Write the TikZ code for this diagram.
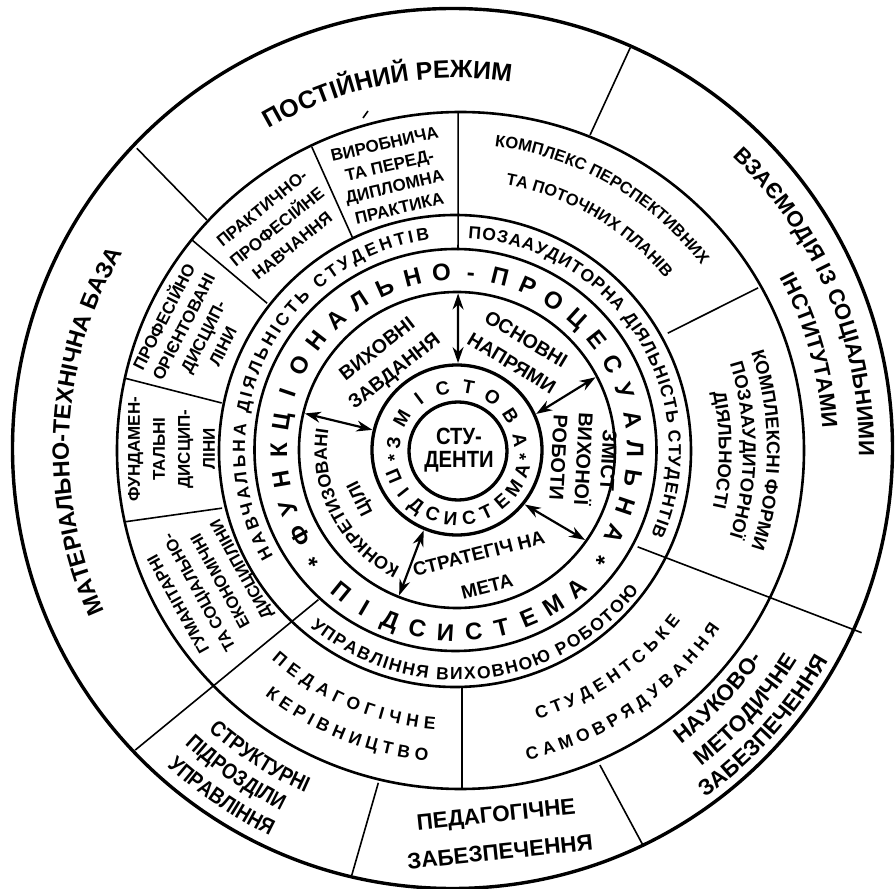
\documentclass[tikz,border=0pt]{standalone}
\usepackage{fontspec}
\setmainfont{Liberation Sans}
\newfontfamily\narrowfont[FakeStretch=0.86]{Liberation Sans}
\usetikzlibrary{positioning,decorations.text,arrows.meta}
\tikzset{
  rim/.style    = {line width=3.4pt},
  ring/.style   = {line width=2.6pt},
  core/.style   = {line width=3.3pt},
  sep/.style    = {line width=1.6pt},
  block/.style  = {align=center, inner sep=0pt},
  letter/.style = {anchor=base, inner sep=0pt},
  link/.style   = {<->, line width=2.2pt}
}
\newcommand\fsz[1]{\fontsize{#1}{#1}\selectfont}
\newcommand\fb[2]{\bfseries\fontsize{#1}{#2}\selectfont}
% align, font, radius, from, to, text
\newcommand\arctext[6]{\path[decorate, decoration={text along path, text align={#1},
    text={|\bfseries#2|#6}}] (#4:#3) arc[start angle=#4, end angle=#5, radius=#3];}
% prefix, font, radius, start, step, turn, letters
\newcommand\ringletters[7]{\foreach \ch [count=\k from 0] in {#7}{
    \pgfmathsetmacro\ang{#4+\k*(#5)}
    \node[letter, font=\bfseries#2, rotate=\ang#6] (#1\k) at (\ang:#3) {\ch};}}

\begin{document}
\begin{tikzpicture}[x=1pt,y=1pt,>={Stealth[length=16pt,width=11pt]}]
\useasboundingbox (-457,-439) rectangle (438,450);

\draw[sep] (89.8:337) -- (89.7:200);
\draw[sep] (115.6:336) -- (116.2:237);
\draw[sep] (141.6:338) -- (142.3:240);
\draw[sep] (167.8:340) -- (168.7:240);
\draw[sep] (192.2:340) -- (193.9:242);
\draw[sep] (227.2:204) -- (223:440);
\draw[sep] (5,-238) -- (5,-340);
\draw[sep] (256.7:342) -- (256.1:438);
\draw[sep] (-65.6:346) -- (-64.8:437);
\draw[sep] (-28.2:205) -- (-24.3:444);
\draw[sep] (28.3:342) -- (29:241);
\draw[sep] (66.7:438) -- (67.1:342);
\draw[sep] (136.7:440) -- (137.4:340);
\draw[sep] (-94,332) -- (-89,339);

\draw[rim] (-4.5,1.5) circle[radius=440];
\draw[ring] (3.5,-0.5) ellipse[x radius=343.5, y radius=338.5];
\draw[ring] (-2,-1) circle[radius=236];
\draw[ring] (-1.5,0) circle[radius=201];
\draw[ring] (0,0) circle[radius=158];
\draw[core] (0,0) circle[radius=85];
\draw[core] (1,-1) circle[radius=49];

\arctext{center}{\fsz{25}}{372}{160}{42}{ПОСТІЙНИЙ РЕЖИМ}
\arctext{center}{\fsz{22}}{402}{75}{-29}{ВЗАЄМОДІЯ ІЗ СОЦІАЛЬНИМИ}
\arctext{center}{\fsz{22}}{366}{45}{-13.4}{ІНСТИТУТАМИ}
\arctext{center}{\fsz{22.5}}{370}{-70}{-17}{НАУКОВО-}
\arctext{center}{\fsz{22.5}}{400}{-70}{-14}{МЕТОДИЧНЕ}
\arctext{center}{\fsz{22.5}}{427}{-72}{-12}{ЗАБЕЗПЕЧЕННЯ}
\arctext{center}{\narrowfont\fsz{22}}{375}{210}{264.6}{СТРУКТУРНІ}
\arctext{center}{\narrowfont\fsz{22}}{401}{208}{263.2}{ПІДРОЗДІЛИ}
\arctext{center}{\narrowfont\fsz{22}}{429}{208}{263.6}{УПРАВЛІННЯ}
\arctext{center}{\fsz{23.5}}{388}{240}{114}{МАТЕРІАЛЬНО-ТЕХНІЧНА БАЗА}
\node[block, rotate=6, font=\fb{22.5}{38}] (pedz) at (41,-383) {ПЕДАГОГІЧНЕ\\ЗАБЕЗПЕЧЕННЯ};

\node[block, rotate=13, font=\fb{17}{22}] (prod) at (-65,274) {ВИРОБНИЧА\\ТА ПЕРЕД-\\ДИПЛОМНА\\ПРАКТИКА};
\node[block, rotate=39, font=\fb{17}{24}] (pract) at (-180,223) {ПРАКТИЧНО-\\ПРОФЕСІЙНЕ\\НАВЧАННЯ};
\node[block, rotate=63, font=\fb{17}{22}] (prof) at (-265,119) {ПРОФЕСІЙНО\\ОРІЄНТОВАНІ\\ДИСЦИП-\\ЛІНИ};
\node[block, rotate=90, font=\fb{17}{25}] (fund) at (-285.5,1) {ФУНДАМЕН-\\ТАЛЬНІ\\ДИСЦИП-\\ЛІНИ};
\node[block, rotate=119, font=\fb{16.5}{24}] (hum) at (-246,-136) {ГУМАНІТАРНІ\\ТА СОЦІАЛЬНО-\\ЕКОНОМІЧНІ\\ДИСЦИПЛІНИ};
\arctext{fit to path}{\fsz{17.5}}{280}{228.5}{265.5}{ПЕДАГОГІЧНЕ}
\arctext{fit to path}{\fsz{17.5}}{312}{232}{264.6}{КЕРІВНИЦТВО}
\arctext{fit to path}{\fsz{17.5}}{281}{-73.4}{-37.3}{СТУДЕНТСЬКЕ}
\arctext{fit to path}{\fsz{17.5}}{318}{-77.2}{-34.2}{САМОВРЯДУВАННЯ}
\arctext{center}{\fsz{18.5}}{310}{40}{-40}{КОМПЛЕКСНІ ФОРМИ}
\arctext{center}{\fsz{18.5}}{286}{40}{-40}{ПОЗААУДИТОРНОЇ}
\arctext{center}{\fsz{18.5}}{262}{40}{-40}{ДІЯЛЬНОСТІ}
\arctext{center}{\fsz{16.5}}{306}{95}{25}{КОМПЛЕКС ПЕРСПЕКТИВНИХ}
\arctext{center}{\fsz{16.5}}{270}{94.2}{25}{ТА ПОТОЧНИХ ПЛАНІВ}

\arctext{fit to path}{\fsz{17.5}}{212}{210}{97.4}{НАВЧАЛЬНА ДІЯЛЬНІСТЬ СТУДЕНТІВ}
\arctext{fit to path}{\fsz{17.5}}{212}{87}{-23.7}{ПОЗААУДИТОРНА ДІЯЛЬНІСТЬ СТУДЕНТІВ}
\arctext{fit to path}{\fsz{17.5}}{230}{230.3}{322.2}{УПРАВЛІННЯ ВИХОВНОЮ РОБОТОЮ}

\ringletters{fa}{\fsz{24}}{170}{218}{-9.463}{-90}{*,Ф,У,Н,К,Ц,І,О,Н,А,Л,Ь,Н,О,-,П,Р,О,Ц,Е,С,У,А,Л,Ь,Н,А,*}
\ringletters{fb}{\fsz{24}}{191}{230.8}{8.889}{+90}{П,І,Д,С,И,С,Т,Е,М,А}

\node[block, rotate=38, font=\fb{19.5}{28}] (tasks) at (-70.5,89) {ВИХОВНІ\\ЗАВДАННЯ};
\node[block, rotate=-31, font=\fb{19.5}{28}] (dirs) at (62,99) {ОСНОВНІ\\НАПРЯМИ};
\node[block, rotate=-93, font=\fb{20}{25}] (cont) at (126.5,-9) {ЗМІСТ\\ВИХОНОЇ\\РОБОТИ};
\node[block, rotate=14, font=\fb{19}{34}] (goal) at (26,-120) {СТРАТЕГІЧ НА\\МЕТА};
\arctext{center}{\fsz{18}}{130}{260}{155}{КОНКРЕТИЗОВАНІ}
\node[block, rotate=116.6, font=\fb{18}{18}] (aims) at (-96,-48) {ЦІЛІ};

\ringletters{za}{\fsz{19}}{57}{174}{-23.6}{-90}{З,М,І,С,Т,О,В,А}
\ringletters{zb}{\fsz{19}}{75}{202.8}{15.44}{+90}{П,І,Д,С,И,С,Т,Е,М,А}
\node[letter, font=\bfseries\fsz{18}, rotate=96.6] (ast1) at (186.6:57) {*};
\node[letter, font=\bfseries\fsz{18}, rotate=-96.4] (ast2) at (-6.4:57) {*};
\node[block, font=\bfseries\narrowfont\fontsize{23.5}{23}\selectfont] (stud) at (2,0) {СТУ-\\ДЕНТИ};

\coordinate (in1) at (89.3:87);   \coordinate (out1) at (89.6:156.5);
\coordinate (in2) at (24.5:87);   \coordinate (out2) at (27.7:156.5);
\coordinate (in3) at (166.6:87);  \coordinate (out3) at (166.5:156.5);
\coordinate (in4) at (-38.8:87);  \coordinate (out4) at (-35.1:156.5);
\coordinate (in5) at (247.5:87);  \coordinate (out5) at (248.3:156.5);
\foreach \i in {1,...,5}
  \draw[link] (in\i) -- (out\i);
\end{tikzpicture}
\end{document}
